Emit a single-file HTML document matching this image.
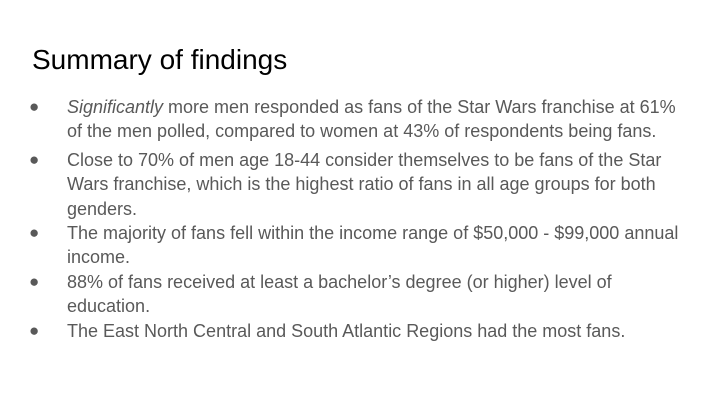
<!DOCTYPE html>
<html><head><meta charset="utf-8"><style>
body{margin:0;width:720px;height:405px;background:#fff;overflow:hidden;position:relative;font-family:"Liberation Sans",Arial,sans-serif}
.t{position:absolute;left:32px;top:42px;font-size:28px;line-height:36px;color:#000;white-space:nowrap}
.l{position:absolute;left:67px;font-size:18px;line-height:24px;color:#595959;white-space:nowrap}
.b{position:absolute;left:29px;font-size:17px;line-height:24px;color:#595959}
</style></head><body>
<div class="t">Summary of findings</div>
<div>
<div class="b" style="top:95px">●</div>
<div class="l" style="top:95px"><i>Significantly</i> more men responded as fans of the Star Wars franchise at 61%</div>
<div class="l" style="top:119px">of the men polled, compared to women at 43% of respondents being fans.</div>
<div class="b" style="top:148px">●</div>
<div class="l" style="top:148px">Close to 70% of men age 18-44 consider themselves to be fans of the Star</div>
<div class="l" style="top:172px">Wars franchise, which is the highest ratio of fans in all age groups for both</div>
<div class="l" style="top:197px">genders.</div>
<div class="b" style="top:221px">●</div>
<div class="l" style="top:221px">The majority of fans fell within the income range of $50,000 - $99,000 annual</div>
<div class="l" style="top:245px">income.</div>
<div class="b" style="top:270px">●</div>
<div class="l" style="top:270px">88% of fans received at least a bachelor’s degree (or higher) level of</div>
<div class="l" style="top:294px">education.</div>
<div class="b" style="top:319px">●</div>
<div class="l" style="top:319px">The East North Central and South Atlantic Regions had the most fans.</div>
</div>
</body></html>
